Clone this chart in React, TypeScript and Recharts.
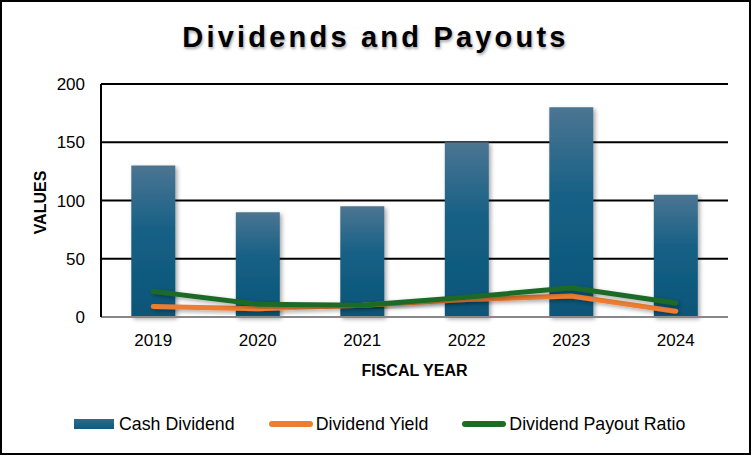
import React from 'react';
import { ComposedChart, Bar, Line, XAxis, YAxis, CartesianGrid } from 'recharts';

const years = ['2019', '2020', '2021', '2022', '2023', '2024'];
const cashDividend = [130, 90, 95, 150, 180, 105];
const dividendYield = [9, 7, 10, 15, 18, 5];
const payoutRatio = [22, 11, 10, 17, 25, 12];
const yTicks = [0, 50, 100, 150, 200];

const data = years.map((year, i) => ({
  year,
  cash: cashDividend[i],
  yield: dividendYield[i],
  payout: payoutRatio[i],
}));

const FONT = 'Liberation Sans, Arial, sans-serif';

const YLabel = (props: any) => {
  const vb = props.viewBox;
  const cx = 40;
  const cy = vb.y + vb.height / 2 + 2;
  return (
    <text
      x={cx}
      y={cy}
      transform={`rotate(-90 ${cx} ${cy})`}
      textAnchor="middle"
      dominantBaseline="central"
      style={{ fontFamily: FONT, fontWeight: 700, fontSize: 16, fill: '#000' }}
    >
      VALUES
    </text>
  );
};

const legendItems = [
  { name: 'Cash Dividend', kind: 'bar', color: '#155e84', gap: 34 },
  { name: 'Dividend Yield', kind: 'line', color: '#ed7d31', gap: 34 },
  { name: 'Dividend Payout Ratio', kind: 'line', color: '#1e6b26', gap: 0 },
];

export default function App() {
  return (
    <div style={{ position: 'relative', width: 751, height: 455, background: '#fff' }}>
      <style>{'body{margin:0}'}</style>
      <ComposedChart
        width={751}
        height={455}
        data={data}
        margin={{ top: 84, right: 23, bottom: 78, left: 0 }}
        barCategoryGap="29%"
      >
        <defs>
          <linearGradient id="barGrad" x1="0" y1="0" x2="0" y2="1">
            <stop offset="0%" stopColor="#4b7592" />
            <stop offset="45%" stopColor="#145f85" />
            <stop offset="100%" stopColor="#0d5678" />
          </linearGradient>
          <filter id="shadow" x="-20%" y="-20%" width="140%" height="140%">
            <feDropShadow dx="2" dy="2" stdDeviation="2" floodColor="#000" floodOpacity="0.35" />
          </filter>
        </defs>
        <CartesianGrid horizontal vertical={false} stroke="#000" strokeWidth={2} />
        <XAxis
          dataKey="year"
          height={60}
          tick={{ fontFamily: FONT, fontSize: 17, fill: '#000' }}
          tickLine={false}
          tickMargin={11}
          axisLine={{ stroke: '#888', strokeWidth: 2 }}
          label={{
            value: 'FISCAL YEAR',
            position: 'insideBottom',
            offset: 1,
            style: { fontFamily: FONT, fontWeight: 700, fontSize: 16, fill: '#000' },
          }}
        />
        <YAxis
          width={101}
          domain={[0, 200]}
          ticks={yTicks}
          tick={{ fontFamily: FONT, fontSize: 17, fill: '#000' }}
          tickLine={false}
          tickMargin={10}
          axisLine={{ stroke: '#000', strokeWidth: 2 }}
          label={{ content: YLabel }}
        />
        <Bar dataKey="cash" fill="url(#barGrad)" filter="url(#shadow)" isAnimationActive={false} />
        <Line
          dataKey="yield"
          type="linear"
          stroke="#ed7d31"
          strokeWidth={5}
          strokeLinecap="round"
          dot={false}
          filter="url(#shadow)"
          isAnimationActive={false}
        />
        <Line
          dataKey="payout"
          type="linear"
          stroke="#1e6b26"
          strokeWidth={5}
          strokeLinecap="round"
          dot={false}
          filter="url(#shadow)"
          isAnimationActive={false}
        />
      </ComposedChart>
      <div
        style={{
          position: 'absolute',
          top: 21,
          left: 0,
          width: 751,
          textAlign: 'center',
          fontFamily: FONT,
          fontWeight: 700,
          fontSize: 29,
          letterSpacing: 3.2,
          color: '#000',
          textShadow: '1px 2px 3px rgba(0,0,0,0.35)',
        }}
      >
        Dividends and Payouts
      </div>
      <div
        style={{
          position: 'absolute',
          top: 413,
          left: 74,
          height: 22,
          display: 'flex',
          alignItems: 'center',
          fontFamily: FONT,
          fontSize: 17.8,
          color: '#000',
        }}
      >
        {legendItems.map((item) => (
          <div key={item.name} style={{ display: 'flex', alignItems: 'center', marginRight: item.gap }}>
            {item.kind === 'bar' ? (
              <div style={{ width: 40, height: 10, background: 'linear-gradient(#2f6a8c, #0e5a7e)', marginRight: 5 }} />
            ) : (
              <div style={{ width: 44, height: 6, borderRadius: 3, background: item.color, marginRight: 3 }} />
            )}
            <span>{item.name}</span>
          </div>
        ))}
      </div>
      <div
        style={{
          position: 'absolute',
          left: 0,
          top: 0,
          width: 751,
          height: 455,
          boxSizing: 'border-box',
          border: '2px solid #000',
          pointerEvents: 'none',
        }}
      />
    </div>
  );
}
